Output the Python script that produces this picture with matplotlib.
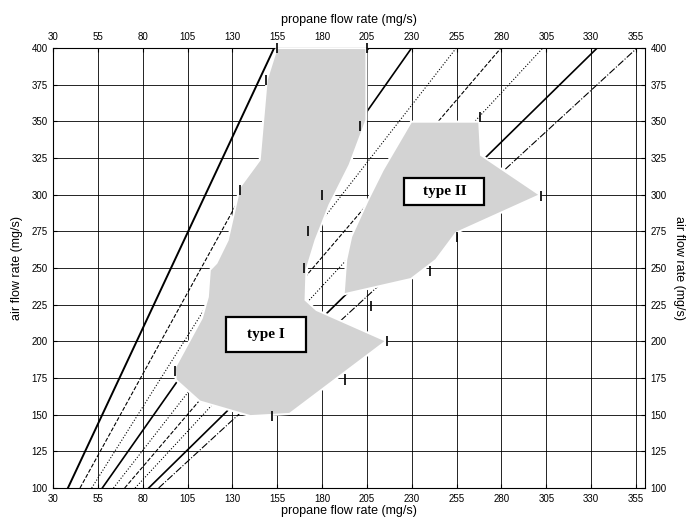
import numpy as np
import matplotlib.pyplot as plt
from matplotlib.patches import Polygon, Rectangle

# air/propane mass ratios of the constant-mixture lines
ratios = [2.61, 2.22, 1.94, 1.74, 1.57, 1.43, 1.32, 1.20, 1.125]
styles = ['-', '--', ':', '-', ':', '--', ':', '-', '-.']
widths = [1.4, 0.8, 0.8, 1.2, 0.8, 0.8, 0.8, 1.2, 0.8]

# outline of the type I region (propane, air)
type1_x = [154.7, 204.7, 204.7, 195.3, 184.1, 176.4, 171.3, 170.8, 176.9, 215.9,
           161.9, 140.0, 111.8, 98.4, 97.9, 113.0, 116.3, 117.4, 121.1, 127.4,
           134.1, 145.2, 149.1]
type1_y = [400, 400, 350.9, 320.2, 293.0, 269.1, 248.7, 228.2, 221.4, 200.3,
           150.5, 149.0, 159.0, 173.7, 182.0, 216.0, 230.3, 248.7, 253.4, 269.1,
           305.2, 323.7, 378.2]

# outline of the type II region
type2_x = [229.6, 267.6, 268.6, 271.3, 301.6, 254.7, 243.5, 229.6, 192.0,
           193.4, 196.2, 205.5, 213.8]
type2_y = [349.8, 349.8, 327.1, 324.8, 299.8, 273.9, 255.5, 242.5, 232.0,
           255.5, 271.4, 296.4, 316.8]

# measured points with short error bars
pts_x = [155, 205, 149, 134, 201, 180, 172, 170, 207, 192.5, 216, 152, 98,
         268, 302, 255, 240]
pts_y = [400, 400, 378, 303, 347, 300, 275, 250, 224, 174, 200, 149, 180,
         353, 299, 271, 248]

xticks = np.arange(30, 356, 25)
yticks = np.arange(100, 401, 25)

plt.rcParams['font.family'] = ['Liberation Sans', 'DejaVu Sans']

fig = plt.figure(figsize=(6.92, 5.18), dpi=100)
ax = fig.add_axes([0.0766, 0.0579, 0.8555, 0.8494])
ax.set_xlim(30, 360)
ax.set_ylim(100, 400)
ax.set_xticks(xticks)
ax.set_yticks(yticks)
ax.grid(True, color='black', lw=0.6, ls='-')
ax.set_axisbelow(True)
ax.tick_params(direction='in', length=3, labelsize=7, top=True, right=True,
               labeltop=True, labelright=True, pad=4)

air = np.array([100, 400])
for k, ls, lw in zip(ratios, styles, widths):
    ax.plot(air / k, air, color='black', ls=ls, lw=lw, zorder=2)

for xs, ys in [(type1_x, type1_y), (type2_x, type2_y)]:
    poly = Polygon(np.column_stack([xs, ys]), closed=True, fc='#d3d3d3',
                   ec='white', lw=1.5, zorder=3)
    ax.add_patch(poly)

ax.errorbar(pts_x, pts_y, yerr=3.5, fmt='none', ecolor='black', elinewidth=1.2,
            capsize=0, zorder=4, clip_on=False)

# label boxes
for (x0, y0, w, h, txt) in [(126.5, 193.0, 44.5, 23.8, 'type I'),
                            (225.9, 293.2, 44.5, 18.4, 'type II')]:
    ax.add_patch(Rectangle((x0, y0), w, h, fc='white', ec='black', lw=1.6,
                           zorder=5))
    ax.text(x0 + w / 2, y0 + h / 2, txt, ha='center', va='center',
            family='Liberation Serif', weight='bold', fontsize=11, zorder=6)

ax.set_xlabel('propane flow rate (mg/s)', fontsize=9, labelpad=1)
ax.set_ylabel('air flow rate (mg/s)', fontsize=9, labelpad=6)
ax.text(0.5, 1.05, 'propane flow rate (mg/s)', transform=ax.transAxes,
        ha='center', va='bottom', fontsize=9)
ax.text(1.058, 0.5, 'air flow rate (mg/s)', transform=ax.transAxes,
        ha='center', va='center', rotation=-90, fontsize=9)

fig.savefig('out.png', dpi=100)
